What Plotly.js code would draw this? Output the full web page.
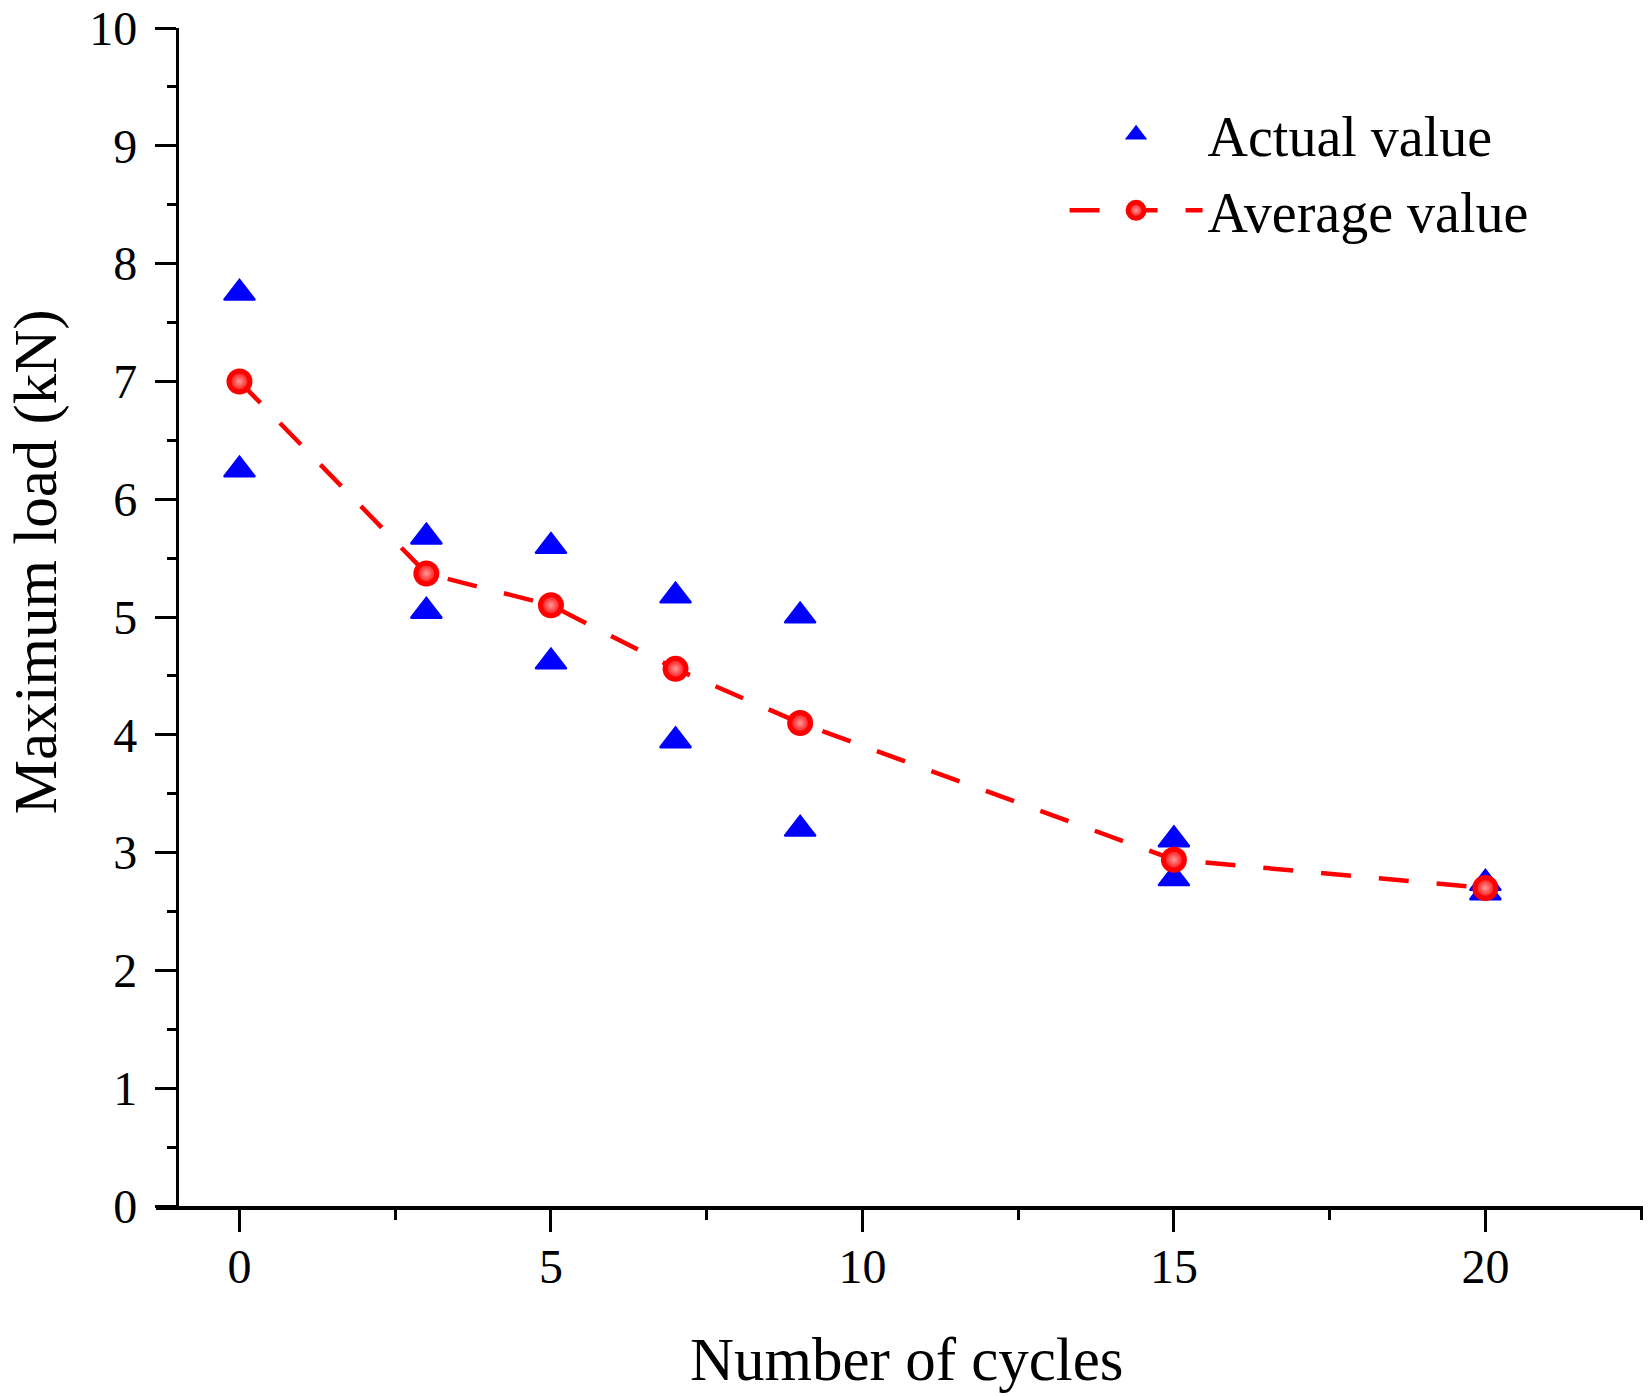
<!DOCTYPE html>
<html>
<head>
<meta charset="utf-8">
<script src="https://cdn.plot.ly/plotly-3.0.1.min.js"></script>
<style>html,body{margin:0;padding:0;background:#fff;}#chart{width:1651px;height:1396px;}</style>
</head>
<body>
<div id="chart"></div>
<script>
// Data
const actualCycles = [0, 0, 3, 3, 5, 5, 7, 7, 9, 9, 15, 15, 20, 20];
const actualLoad   = [7.75, 6.25, 5.68, 5.05, 5.60, 4.62, 5.18, 3.95, 5.01, 3.20, 3.11, 2.78, 2.74, 2.66];
const avgCycles = [0, 3, 5, 7, 9, 15, 20];
const avgLoad   = [7.00, 5.37, 5.10, 4.56, 4.10, 2.94, 2.70];
const seriesNames = ['Actual value', 'Average value'];
const xTickVals = [0, 5, 10, 15, 20];
const yTickVals = [0, 1, 2, 3, 4, 5, 6, 7, 8, 9, 10];
const xTitle = 'Number of cycles';
const yTitle = 'Maximum load (kN)';

const FONT = '"Liberation Serif", "Times New Roman", Times, serif';

const traces = [
  {
    x: actualCycles, y: actualLoad, name: seriesNames[0],
    type: 'scatter', mode: 'markers', cliponaxis: false,
    marker: {symbol: 'triangle-up', size: 27, color: '#0000ff', line: {width: 2, color: '#0000ff'}}
  },
  {
    x: avgCycles, y: avgLoad, name: seriesNames[1],
    type: 'scatter', mode: 'lines+markers', cliponaxis: false,
    line: {color: '#ff0000', width: 4.5, dash: '30px,28px'},
    marker: {symbol: 'circle', size: 21, color: '#ff0000', line: {width: 5, color: '#ff0000'},
             gradient: {type: 'radial', color: '#ff9a9a'}}
  }
];

const layout = {
  width: 1651, height: 1396,
  margin: {l: 156, r: 8, t: 28, b: 190, pad: 0},
  paper_bgcolor: '#ffffff', plot_bgcolor: '#ffffff',
  font: {family: FONT, color: '#000', size: 48},
  showlegend: true,
  legend: {
    x: 0.611, y: 0.946, xanchor: 'left', yanchor: 'top',
    bgcolor: 'rgba(0,0,0,0)', borderwidth: 0,
    font: {family: FONT, size: 56, color: '#000'},
    itemwidth: 133, tracegroupgap: 0
  },
  xaxis: {
    domain: [0, 1], range: [-1.34, 22.53],
    showgrid: false, zeroline: false,
    showline: true, linecolor: '#000', linewidth: 3.5,
    ticks: 'outside', ticklen: 22, tickwidth: 3, tickcolor: '#000',
    tickmode: 'array', tickvals: xTickVals, ticklabelstandoff: -6,
    ticklabeloverflow: 'allow',
    tickfont: {family: FONT, size: 48, color: '#000'},
    minor: {ticks: 'outside', dtick: 2.5, tick0: 0, ticklen: 10, tickwidth: 3, tickcolor: '#000', showgrid: false}
  },
  yaxis: {
    range: [0, 10.0005], anchor: 'free', position: 0.0141,
    showgrid: false, zeroline: false,
    showline: true, linecolor: '#000', linewidth: 3.5,
    ticks: 'outside', ticklen: 21, tickwidth: 3, tickcolor: '#000',
    tickmode: 'array', tickvals: yTickVals, ticklabelstandoff: 8,
    ticklabeloverflow: 'allow',
    tickfont: {family: FONT, size: 48, color: '#000'},
    minor: {ticks: 'outside', dtick: 0.5, tick0: 0, ticklen: 9, tickwidth: 3, tickcolor: '#000', showgrid: false}
  },
  annotations: [
    {text: xTitle, xref: 'paper', yref: 'paper', x: 0.505, y: -0.1305,
     xanchor: 'center', yanchor: 'middle', showarrow: false,
     font: {family: FONT, size: 61, color: '#000'}},
    {text: yTitle, xref: 'paper', yref: 'paper', x: -0.081, y: 0.547,
     xanchor: 'center', yanchor: 'middle', showarrow: false, textangle: -90,
     font: {family: FONT, size: 61, color: '#000'}}
  ]
};

Plotly.newPlot('chart', traces, layout, {displayModeBar: false, staticPlot: true});
</script>
</body>
</html>
